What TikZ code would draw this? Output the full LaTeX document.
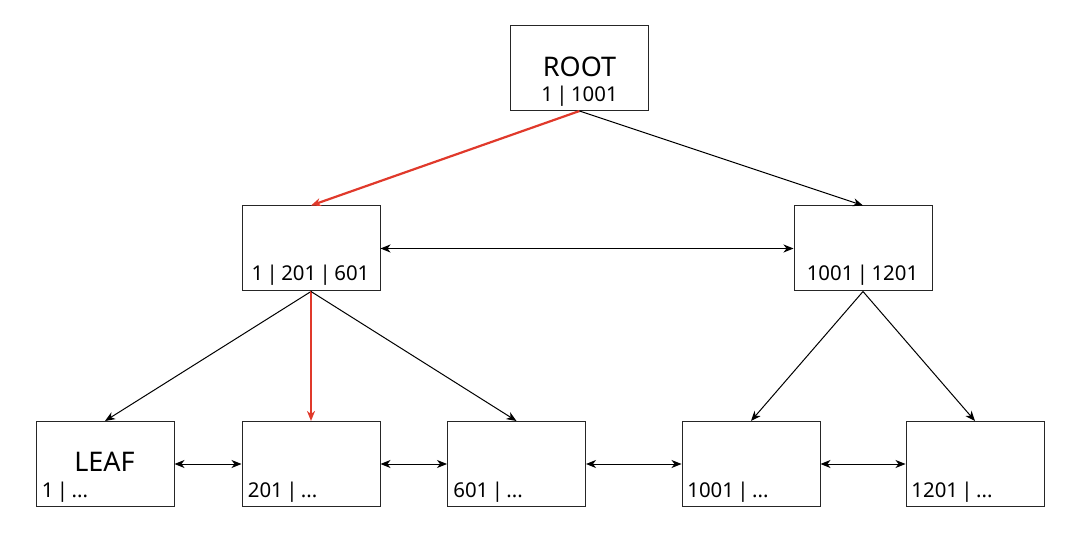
\documentclass[tikz,border=0pt]{standalone}
\usepackage{fontspec}
\setmainfont{Noto Sans}
\usetikzlibrary{arrows.meta}
\definecolor{pathred}{HTML}{E0392B}
\begin{document}
\begin{tikzpicture}[x=0.5pt, y=-0.5pt,
  box/.style={draw=black!85, line width=0.5pt, minimum width=69pt, minimum height=42.5pt, inner sep=0pt},
  keys/.style={inner sep=0pt, font=\fontsize{10.2}{12}\selectfont},
  title/.style={inner sep=0pt, font=\fontsize{13.5}{16}\selectfont},
  link/.style={line width=0.5pt, -{Stealth[length=5pt,width=4pt,inset=1.5pt]}},
  sibling/.style={line width=0.5pt, {Stealth[length=5pt,width=4pt,inset=1.5pt]}-{Stealth[length=5pt,width=4pt,inset=1.5pt]}},
  hot/.style={link, draw=pathred, line width=1.1pt}]
\useasboundingbox (0,0) rectangle (1080,533);
% boxes
\node [box] (root) at (579.5,68) {};
\node [box] (midl) at (311,248.5) {};
\node [box] (midr) at (863,248.5) {};
\node [box] (leafa) at (105,464) {};
\node [box] (leafb) at (311,464) {};
\node [box] (leafc) at (516.5,464) {};
\node [box] (leafd) at (751,464) {};
\node [box] (leafe) at (975,464) {};
% labels
\node [title, anchor=base] (roottitle) at (579.5,76.5) {ROOT};
\node [keys, anchor=base] (rootkeys) at (579.5,101.5) {1\,|\,1001};
\node [keys, anchor=base] (midlkeys) at (310.5,281) {1\,|\,201\,|\,601};
\node [keys, anchor=base] (midrkeys) at (862.5,281) {1001\,|\,1201};
\node [title, anchor=base] (leaftitle) at (104.5,471.5) {LEAF};
\node [keys, anchor=base west] (leafakeys) at (41.5,497.5) {1\,|\,...};
\node [keys, anchor=base west] (leafbkeys) at (247.5,497.5) {201\,|\,...};
\node [keys, anchor=base west] (leafckeys) at (453,497.5) {601\,|\,...};
\node [keys, anchor=base west] (leafdkeys) at (687,497.5) {1001\,|\,...};
\node [keys, anchor=base west] (leafekeys) at (911,497.5) {1201\,|\,...};
% tree links
\draw [hot] (root.south) -- (midl.north);
\draw [link] (root.south) -- (midr.north);
\draw [link] (midl.south) -- (leafa.north);
\draw [hot] (midl.south) -- (leafb.north);
\draw [link] (midl.south) -- (leafc.north);
\draw [link] (midr.south) -- (leafd.north);
\draw [link] (midr.south) -- (leafe.north);
% sibling links
\draw [sibling] (midl.east) -- (midr.west);
\draw [sibling] (leafa.east) -- (leafb.west);
\draw [sibling] (leafb.east) -- (leafc.west);
\draw [sibling] (leafc.east) -- (leafd.west);
\draw [sibling] (leafd.east) -- (leafe.west);
\end{tikzpicture}
\end{document}
